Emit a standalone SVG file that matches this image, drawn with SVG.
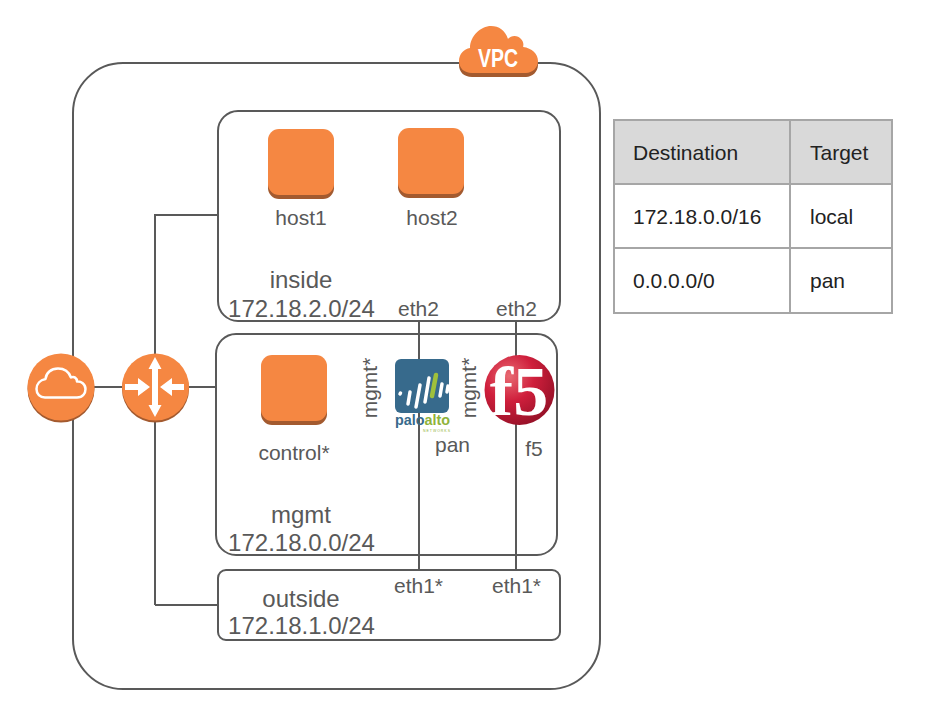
<svg xmlns="http://www.w3.org/2000/svg" width="938" height="728" viewBox="0 0 938 728">
<defs>
<style>
.b{fill:none;stroke:#595959;stroke-width:2}
.c{fill:none;stroke:#595959;stroke-width:2}
.w{fill:none;stroke:#fff;stroke-width:2.5;stroke-linejoin:round}
.t{font-family:"Liberation Sans",Arial,sans-serif;fill:#595959;text-anchor:middle}
.s20{font-size:24px}.s18{font-size:21px}
.d{font-family:"Liberation Sans",Arial,sans-serif;font-size:21px;fill:#222}
.o{fill:#f58742}.od{fill:#a35a2f}
.g{fill:none;stroke:#a6a6a6;stroke-width:2}
</style>
<g id="sq"><rect x="0" y="4" width="66" height="66" rx="11" class="od"/><rect x="0" y="0" width="66" height="66" rx="11" class="o"/></g>
<path id="vpc-cloud" d="M472 73C464 73 459 68 459 61C459 54 464 49 470 48C470 36 481 26 491 26C499 26 505 30 508 39C511 35 518 35 521 39C523 41 524 44 523 47C532 48 538 54 538 61C538 68 532 73 526 73Z"/>
<radialGradient id="f5g" cx="0.35" cy="0.3" r="0.8"><stop offset="0" stop-color="#e86a72"/><stop offset="0.45" stop-color="#cf1f3c"/><stop offset="1" stop-color="#8f0f25"/></radialGradient>
</defs>
<rect width="938" height="728" fill="#fff"/>
<g id="connectors">
<path class="c" d="M94 387H124M155 214V360M155 420V605M218 215H155M188 387H216M218 605H155"/>
</g>
<g id="vpc"><rect class="b" x="73" y="63" width="527" height="626" rx="50"/>
<use href="#vpc-cloud" y="4" class="od"/><use href="#vpc-cloud" class="o"/>
<text x="498" y="67" font-family="'Liberation Sans',sans-serif" font-weight="bold" font-size="25" fill="#fff" text-anchor="middle" textLength="40" lengthAdjust="spacingAndGlyphs">VPC</text></g>
<g id="inside"><rect class="b" x="218" y="111" width="342" height="210" rx="20"/>
<text class="t s20" x="301" y="288">inside</text><text class="t s20" x="301.500" y="317">172.18.2.0/24</text></g>
<g id="mgmt"><rect class="b" x="216" y="334" width="341" height="221" rx="20"/>
<text class="t s20" x="301" y="522.500">mgmt</text><text class="t s20" x="301.500" y="550.500">172.18.0.0/24</text></g>
<g id="outside"><rect class="b" x="218" y="570" width="342" height="70" rx="8"/>
<text class="t s20" x="301" y="607">outside</text><text class="t s20" x="301.500" y="634">172.18.1.0/24</text></g>
<path class="c" d="M419 321V570M516 321V570"/>
<g id="host1"><use href="#sq" x="268" y="129"/><text class="t s18" x="301" y="225">host1</text></g>
<g id="host2"><use href="#sq" x="398" y="128"/><text class="t s18" x="432" y="225">host2</text></g>
<g id="control"><use href="#sq" x="261" y="355"/><text class="t s18" x="294" y="460">control*</text></g>
<g id="igw"><circle cx="61" cy="389" r="33.500" class="od"/><circle cx="61" cy="387" r="33.500" class="o"/>
<path class="w" d="M45 397.500H77C83 397.500 85.500 393 85.500 389C85.500 384 81 381 77 381.500C77 378 74 376 71 377.500C69 372 64 368.500 58 368.500C51 368.500 46 373 45.500 379C40 380 36.500 384 36.500 389C36.500 394 40 397.500 45 397.500Z"/></g>
<g id="router"><circle cx="155.500" cy="389" r="33.500" class="od"/><circle cx="155.500" cy="387" r="33.500" class="o"/>
<path fill="#fff" d="M155 357l6.500 12h-3.500v36h3.500l-6.500 12-6.500-12h3.500v-36h-3.500zM125 384h13v-6l12 9-12 9v-6h-13zM184 384h-12v-6l-12 9 12 9v-6h12z"/></g>
<g id="pan"><rect x="395" y="359" width="54" height="54" rx="6" fill="#376a8c"/>
<g stroke="#fff" stroke-width="3.500" stroke-linecap="round"><path d="M400 394l.5 -1M408 404l2-12M416 407l4-22M425 402l4-24M440 396l2-12M447 392l1-6"/></g>
<path d="M432 396l4-21" stroke="#9fc03b" stroke-width="4.500" stroke-linecap="round"/>
<text x="395" y="425" font-family="'Liberation Sans',sans-serif" font-size="15" font-weight="bold" textLength="55" lengthAdjust="spacingAndGlyphs"><tspan fill="#376a8c">palo</tspan><tspan fill="#8fb33a">alto</tspan></text>
<text x="423" y="431.500" font-family="'Liberation Sans',sans-serif" font-size="3.500" fill="#8fb33a" textLength="27">NETWORKS</text>
<text class="t s18" x="452.500" y="452">pan</text>
<text class="t s18" transform="translate(377 388) rotate(-90)">mgmt*</text></g>
<g id="f5"><circle cx="519.500" cy="390" r="35" fill="url(#f5g)"/>
<text x="519" y="415" font-family="'Liberation Serif',serif" font-weight="bold" font-size="70" fill="#fff" text-anchor="middle">f5</text>
<text class="t s18" x="534" y="456">f5</text>
<text class="t s18" transform="translate(476 388) rotate(-90)">mgmt*</text></g>
<g id="port-labels"><text class="t s18" x="418.500" y="316">eth2</text><text class="t s18" x="516.500" y="316">eth2</text><text class="t s18" x="418.500" y="593">eth1*</text><text class="t s18" x="516.500" y="593">eth1*</text></g>
<g id="route-table">
<rect x="614" y="120" width="278" height="64" fill="#d9d9d9"/>
<path class="g" d="M614 120H892V313H614ZM614 184H892M614 248H892M790 120V313"/>
<text class="d" x="633" y="160">Destination</text><text class="d" x="810" y="160">Target</text>
<text class="d" x="633" y="224">172.18.0.0/16</text><text class="d" x="810" y="224">local</text>
<text class="d" x="633" y="288">0.0.0.0/0</text><text class="d" x="810" y="288">pan</text>
</g>
</svg>
